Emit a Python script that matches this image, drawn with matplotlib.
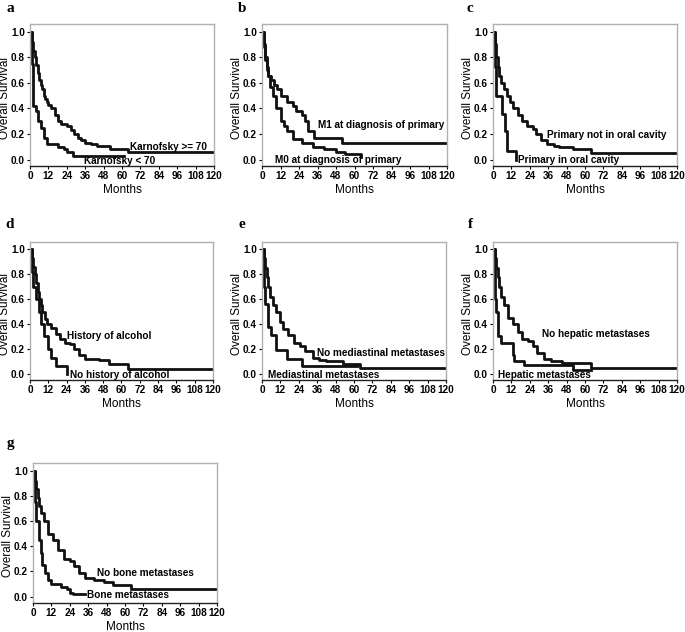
import matplotlib
matplotlib.use("Agg")
import matplotlib.pyplot as plt

plt.rcParams["font.family"] = ["Liberation Sans", "DejaVu Sans"]

# Kaplan-Meier curves: (months, survival) step points
a_hi_t = [0, 1, 2, 3, 4, 5, 6, 7, 8, 9, 10, 11, 12, 14, 16, 18, 20, 24, 27, 29, 31, 33, 36, 40, 44, 52, 64, 120]
a_hi_s = [1.0, 0.92, 0.85, 0.80, 0.74, 0.68, 0.62, 0.58, 0.55, 0.50, 0.47, 0.45, 0.43, 0.40, 0.35, 0.30, 0.28, 0.26, 0.23, 0.20, 0.17, 0.15, 0.13, 0.12, 0.11, 0.08, 0.06, 0.06]
a_lo_t = [0, 1, 2, 4, 5, 7, 9, 11, 18, 22, 24, 28, 61]
a_lo_s = [1.0, 0.75, 0.42, 0.38, 0.30, 0.25, 0.17, 0.12, 0.10, 0.08, 0.06, 0.03, 0.03]

b_hi_t = [0, 1, 2, 3, 4, 6, 8, 10, 12, 16, 20, 22, 26, 28, 30, 34, 52, 120]
b_hi_s = [1.0, 0.88, 0.78, 0.70, 0.65, 0.62, 0.58, 0.55, 0.50, 0.45, 0.42, 0.38, 0.35, 0.30, 0.22, 0.17, 0.13, 0.13]
b_lo_t = [0, 1, 2, 3, 4, 5, 7, 9, 12, 14, 16, 20, 26, 33, 40, 48, 54, 64, 64.01]
b_lo_s = [1.0, 0.9, 0.8, 0.72, 0.65, 0.57, 0.50, 0.40, 0.30, 0.26, 0.22, 0.16, 0.13, 0.10, 0.08, 0.06, 0.04, 0.02, 0.02]

c_hi_t = [0, 1, 2, 3, 4, 5, 7, 9, 11, 13, 16, 19, 22, 26, 28, 31, 35, 40, 43, 52, 64, 120]
c_hi_s = [1.0, 0.9, 0.8, 0.72, 0.65, 0.60, 0.55, 0.50, 0.45, 0.40, 0.35, 0.30, 0.26, 0.24, 0.20, 0.15, 0.12, 0.11, 0.10, 0.08, 0.05, 0.05]
c_lo_t = [0, 1, 2, 6, 8, 9, 15, 15.01]
c_lo_s = [1.0, 0.72, 0.50, 0.36, 0.22, 0.07, 0.0, 0.0]

d_hi_t = [0, 1, 2, 3, 4, 5, 6, 7, 8, 10, 11, 14, 17, 20, 23, 26, 29, 32, 36, 45, 52, 64, 120]
d_hi_s = [1.0, 0.93, 0.86, 0.80, 0.73, 0.66, 0.60, 0.55, 0.50, 0.44, 0.40, 0.37, 0.32, 0.28, 0.25, 0.24, 0.20, 0.15, 0.12, 0.11, 0.08, 0.04, 0.04]
d_lo_t = [0, 1, 2, 4, 6, 7, 9, 12, 14, 17, 24, 24.01]
d_lo_s = [1.0, 0.82, 0.70, 0.60, 0.50, 0.40, 0.30, 0.20, 0.13, 0.06, 0.0, 0.0]

e_hi_t = [0, 1, 2, 3, 4, 5, 7, 9, 12, 14, 17, 21, 25, 28, 33, 37, 42, 53, 64, 120]
e_hi_s = [1.0, 0.93, 0.85, 0.78, 0.70, 0.62, 0.55, 0.50, 0.42, 0.36, 0.31, 0.25, 0.22, 0.18, 0.13, 0.11, 0.10, 0.08, 0.05, 0.05]
e_lo_t = [0, 1, 2, 4, 6, 9, 16, 26, 62]
e_lo_s = [1.0, 0.70, 0.56, 0.38, 0.31, 0.19, 0.12, 0.06, 0.06]

f_hi_t = [0, 1, 2, 3, 4, 5, 7, 10, 13, 16, 19, 23, 26, 29, 33, 38, 45, 64, 120]
f_hi_s = [1.0, 0.93, 0.85, 0.78, 0.70, 0.62, 0.55, 0.45, 0.40, 0.34, 0.28, 0.26, 0.22, 0.17, 0.12, 0.10, 0.09, 0.05, 0.05]
f_lo_t = [0, 1, 2, 3, 5, 13, 14, 20, 52, 64]
f_lo_s = [1.0, 0.60, 0.50, 0.30, 0.25, 0.15, 0.10, 0.07, 0.03, 0.03]

g_hi_t = [0, 1, 2, 3, 4, 5, 7, 10, 13, 16, 20, 24, 27, 30, 34, 40, 46, 52, 64, 120]
g_hi_s = [1.0, 0.92, 0.85, 0.78, 0.72, 0.66, 0.60, 0.50, 0.45, 0.37, 0.30, 0.28, 0.24, 0.19, 0.15, 0.13, 0.12, 0.09, 0.06, 0.06]
g_lo_t = [0, 1, 2, 4, 5, 6, 8, 10, 12, 18, 22, 24, 26, 34]
g_lo_s = [1.0, 0.75, 0.60, 0.45, 0.35, 0.25, 0.19, 0.13, 0.10, 0.08, 0.06, 0.03, 0.02, 0.02]

panels = [
    ("a", a_hi_t, a_hi_s, a_lo_t, a_lo_s, "Karnofsky >= 70", (65, 0.10), "Karnofsky < 70", (35, -0.01)),
    ("b", b_hi_t, b_hi_s, b_lo_t, b_lo_s, "M1 at diagnosis of primary", (36, 0.27), "M0 at diagnosis of primary", (8.5, 0.0)),
    ("c", c_hi_t, c_hi_s, c_lo_t, c_lo_s, "Primary not in oral cavity", (35, 0.19), "Primary in oral cavity", (16, 0.0)),
    ("d", d_hi_t, d_hi_s, d_lo_t, d_lo_s, "History of alcohol", (24, 0.30), "No history of alcohol", (26, -0.01)),
    ("e", e_hi_t, e_hi_s, e_lo_t, e_lo_s, "No mediastinal metastases", (36, 0.17), "Mediastinal metastases", (4, -0.01)),
    ("f", f_hi_t, f_hi_s, f_lo_t, f_lo_s, "No hepatic metastases", (32, 0.32), "Hepatic metastases", (3, -0.01)),
    ("g", g_hi_t, g_hi_s, g_lo_t, g_lo_s, "No bone metastases", (42, 0.185), "Bone metastases", (35, 0.01)),
]

W, H = 685, 632
# axes boxes in pixels: left, top, right, bottom
boxes = [
    (30, 24, 214, 166), (262, 24, 447, 166), (493, 24, 677, 166),
    (30, 242, 213, 380), (262, 242, 446, 380), (493, 242, 677, 380),
    (33, 463, 217, 603),
]
label_pos = [(10, 8), (242, 8), (470, 8), (10, 225), (242, 225), (470, 225), (10, 443)]

fig = plt.figure(figsize=(W / 100, H / 100), dpi=100)

for (name, ht, hs, lt, ls, hlab, hxy, llab, lxy), (l, t, r, b), (px, py) in zip(panels, boxes, label_pos):
    ax = fig.add_axes([l / W, 1 - b / H, (r - l) / W, (b - t) / H])
    ax.plot(ht, hs, drawstyle="steps-post", color="#111111", lw=2.0)
    ax.plot(lt, ls, drawstyle="steps-post", color="#111111", lw=2.0)
    ax.set_xlim(0, 120)
    ax.set_ylim(-0.05, 1.06)
    ax.set_xticks(range(0, 121, 12))
    ax.set_yticks([0.0, 0.2, 0.4, 0.6, 0.8, 1.0])
    ax.set_yticklabels(["0.0", "0.2", "0.4", "0.6", "0.8", "1.0"])
    ax.tick_params(labelsize=7.2, length=2.5, width=0.8, pad=1.2)
    for lab in ax.get_xticklabels() + ax.get_yticklabels():
        lab.set_fontweight("bold")
    for side in ["top", "right", "left"]:
        ax.spines[side].set_color("#b0b0b0")
        ax.spines[side].set_linewidth(1.0)
    ax.spines["bottom"].set_color("#222222")
    ax.spines["bottom"].set_linewidth(1.0)
    ax.set_xlabel("Months", fontsize=8.5, labelpad=2)
    ax.set_ylabel("Overall Survival", fontsize=8.5)
    ax.yaxis.label.set_verticalalignment("center")
    ax.yaxis.set_label_coords(-25 / (r - l), 0.48)
    ax.text(hxy[0], hxy[1], hlab, fontsize=7.2, fontweight="bold", va="center", ha="left")
    ax.text(lxy[0], lxy[1], llab, fontsize=7.2, fontweight="bold", va="center", ha="left")
    fig.text(px / W, 1 - py / H, name, fontsize=11, fontweight="bold",
             family="Liberation Serif", ha="center", va="center")

fig.savefig("out.png", dpi=100)
